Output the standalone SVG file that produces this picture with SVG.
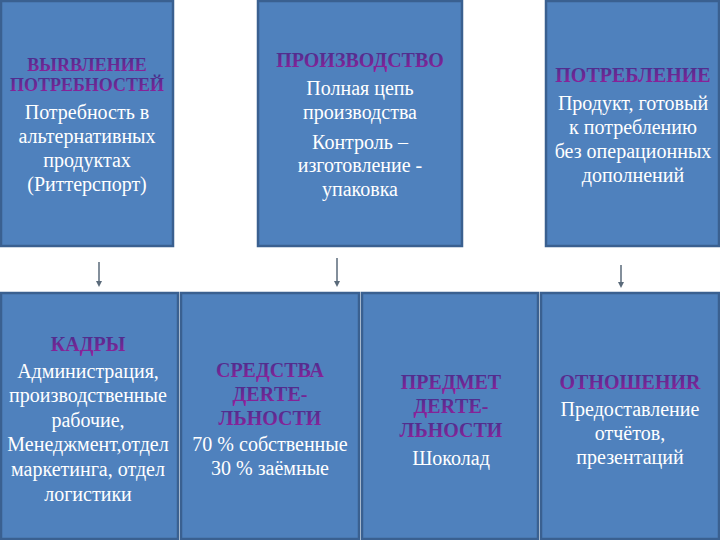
<svg xmlns="http://www.w3.org/2000/svg" width="720" height="540" viewBox="0 0 720 540">
<defs>
<linearGradient id="tg" x1="0" y1="0" x2="0" y2="1">
<stop offset="0" stop-color="#40308a"/>
<stop offset="1" stop-color="#9a1f9c"/>
</linearGradient>
<marker id="ah" viewBox="0 0 6 6" refX="3" refY="3" markerWidth="4" markerHeight="4" orient="auto">
<path d="M0,0 L6,3 L0,6 z" fill="#5a6a7a"/>
</marker>
<style>
.box{fill:#4f81bd;stroke:#3a6090;stroke-width:2.5}
.t{font-family:'Liberation Serif','DejaVu Serif',serif;font-weight:bold;font-size:20px;fill:url(#tg);text-anchor:middle}
.s{font-size:18px}
.b{font-family:'Liberation Serif','DejaVu Serif',serif;font-size:20px;fill:#ffffff;text-anchor:middle}
.c{stroke:#5a6a7a;stroke-width:1.5;fill:none;marker-end:url(#ah)}
</style>
</defs>
<rect width="720" height="540" fill="#ffffff"/>
<g id="n1">
<rect class="box" x="1" y="1" width="172" height="245"/>
<text class="t s" x="87" y="71">ВЫRВЛЕНИЕ</text>
<text class="t s" x="87" y="91">ПОТРЕБНОСТЕЙ</text>
<text class="b" x="87" y="119">Потребность в</text>
<text class="b" x="87" y="143">альтернативных</text>
<text class="b" x="87" y="167">продуктах</text>
<text class="b" x="87" y="191">(Риттерспорт)</text>
</g>
<g id="n2">
<rect class="box" x="258" y="1" width="204" height="245"/>
<text class="t" x="360" y="67">ПРОИЗВОДСТВО</text>
<text class="b" x="360" y="95">Полная цепь</text>
<text class="b" x="360" y="119">производства</text>
<text class="b" x="360" y="149">Контроль –</text>
<text class="b" x="360" y="172">изготовление -</text>
<text class="b" x="360" y="196">упаковка</text>
</g>
<g id="n3">
<rect class="box" x="546" y="1" width="173" height="245"/>
<text class="t" x="633" y="82">ПОТРЕБЛЕНИЕ</text>
<text class="b" x="633" y="110">Продукт, готовый</text>
<text class="b" x="633" y="134">к потреблению</text>
<text class="b" x="633" y="158">без операционных</text>
<text class="b" x="633" y="182">дополнений</text>
</g>
<g id="n4">
<rect class="box" x="1" y="293" width="177" height="246"/>
<text class="t" x="88" y="351">КАДРЫ</text>
<text class="b" x="88" y="378">Администрация,</text>
<text class="b" x="88" y="402">производственные</text>
<text class="b" x="88" y="427">рабочие,</text>
<text class="b" x="88" y="451">Менеджмент,отдел</text>
<text class="b" x="88" y="476">маркетинга, отдел</text>
<text class="b" x="88" y="501">логистики</text>
</g>
<g id="n5">
<rect class="box" x="181" y="293" width="178" height="246"/>
<text class="t" x="270" y="377">СРЕДСТВА</text>
<text class="t" x="270" y="401">ДЕRТЕ-</text>
<text class="t" x="270" y="425">ЛЬНОСТИ</text>
<text class="b" x="270" y="451">70 % собственные</text>
<text class="b" x="270" y="475">30 % заёмные</text>
</g>
<g id="n6">
<rect class="box" x="362" y="293" width="176" height="246"/>
<text class="t" x="451" y="389">ПРЕДМЕТ</text>
<text class="t" x="451" y="413">ДЕRТЕ-</text>
<text class="t" x="451" y="437">ЛЬНОСТИ</text>
<text class="b" x="451" y="465">Шоколад</text>
</g>
<g id="n7">
<rect class="box" x="541" y="293" width="178" height="246"/>
<text class="t" x="630" y="389">ОТНОШЕНИR</text>
<text class="b" x="630" y="416">Предоставление</text>
<text class="b" x="630" y="440">отчётов,</text>
<text class="b" x="630" y="464">презентаций</text>
</g>
<g id="connectors">
<line class="c" x1="99" y1="262" x2="99" y2="284"/>
<line class="c" x1="337" y1="258" x2="337" y2="284"/>
<line class="c" x1="621" y1="265" x2="621" y2="285"/>
</g>
</svg>
